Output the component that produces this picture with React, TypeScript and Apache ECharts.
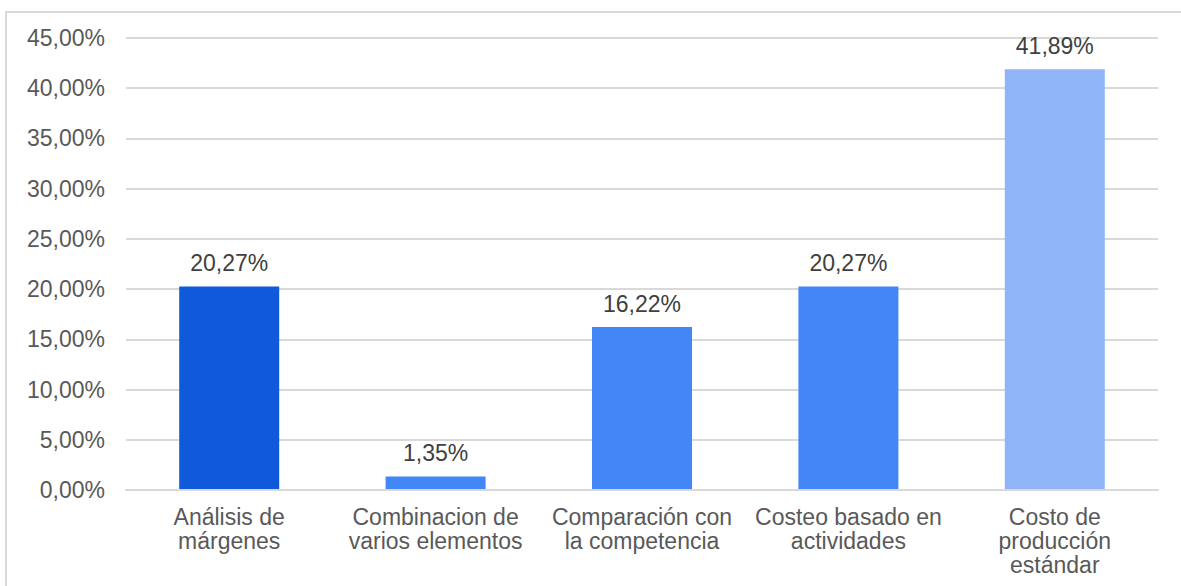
import React, { useEffect, useRef } from "react";
import * as echarts from "echarts";

const categories = [
  "Análisis de\nmárgenes",
  "Combinacion de\nvarios elementos",
  "Comparación con\nla competencia",
  "Costeo basado en\nactividades",
  "Costo de\nproducción\nestándar",
];
const values = [20.27, 1.35, 16.22, 20.27, 41.89];
const barColors = ["#0E5ADB", "#4386F5", "#4386F5", "#4386F5", "#8FB5F8"];

const fmt = (v: number) => v.toFixed(2).replace(".", ",") + "%";

export default function App() {
  const ref = useRef<HTMLDivElement>(null);
  useEffect(() => {
    if (!ref.current) return;
    const chart = echarts.init(ref.current, undefined, { renderer: "svg" });
    chart.setOption({
      animation: false,
      backgroundColor: "#ffffff",
      textStyle: { fontFamily: "Liberation Sans, Arial, sans-serif" },
      graphic: [
        {
          type: "rect",
          shape: { x: 6, y: 12, width: 1400, height: 800 },
          style: { fill: "none", stroke: "#D9D9D9", lineWidth: 2 },
          silent: true,
          z: -1,
        },
      ],
      grid: { left: 126, right: 23, top: 38, bottom: 96 },
      xAxis: {
        type: "category",
        data: categories,
        z: 5,
        axisLine: { lineStyle: { color: "#D9D9D9", width: 2 } },
        axisTick: { length: 6, lineStyle: { color: "#D9D9D9", width: 2 } },
        axisLabel: {
          interval: 0,
          margin: 15,
          color: "#595959",
          fontSize: 23,
          lineHeight: 24,
          fontFamily: "Liberation Sans, Arial, sans-serif",
        },
      },
      yAxis: {
        type: "value",
        min: 0,
        max: 45,
        interval: 5,
        axisLine: { show: false },
        axisTick: { show: false },
        splitLine: { lineStyle: { color: "#D9D9D9", width: 2 } },
        axisLabel: {
          margin: 21,
          color: "#595959",
          fontSize: 23,
          fontFamily: "Liberation Sans, Arial, sans-serif",
          formatter: (v: number) => fmt(v),
        },
      },
      series: [
        {
          type: "bar",
          barWidth: 100,
          data: values.map((v, i) => ({
            value: v,
            itemStyle: { color: barColors[i] },
          })),
          label: {
            show: true,
            position: "top",
            distance: 12,
            color: "#404040",
            fontSize: 23,
            fontFamily: "Liberation Sans, Arial, sans-serif",
            formatter: (p: any) => fmt(p.value),
          },
        },
      ],
    });
    return () => chart.dispose();
  }, []);
  return (
    <div
      ref={ref}
      style={{ position: "absolute", left: 0, top: 0, width: 1181, height: 586 }}
    />
  );
}
